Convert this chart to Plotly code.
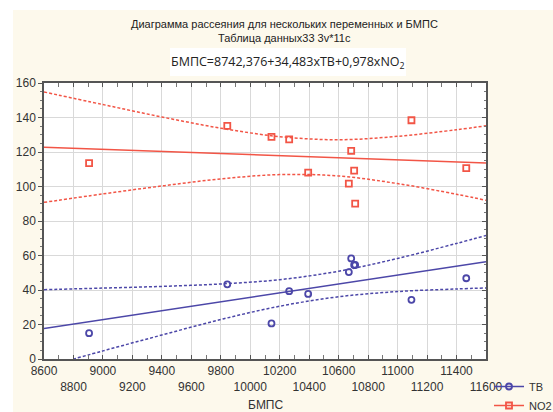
import plotly.graph_objects as go

# ---- data ----
bmps = [8906, 9844, 10144, 10264, 10393, 10669, 10685, 10705, 10712, 11094, 11466]
tb = [15.0, 43.3, 20.6, 39.3, 37.7, 50.4, 58.3, 54.5, 54.5, 34.3, 46.8]
no2 = [113.6, 135.2, 128.8, 127.3, 108.0, 101.7, 120.7, 109.2, 90.1, 138.4, 110.7]

# regression lines (endpoints)
fit_x = [8600, 11600]
tb_fit = [17.7, 56.4]
no2_fit = [122.8, 113.6]

# confidence bands
band_x = [8600, 9000, 9400, 9800, 10200, 10600, 11000, 11400, 11600]
tb_upper = [40.2, 41.1, 42.1, 43.5, 46.0, 50.9, 58.3, 67.0, 71.6]
tb_lower = [-4.8, 4.7, 13.9, 22.9, 30.6, 36.1, 39.1, 40.6, 41.2]
no2_upper = [154.8, 147.5, 140.3, 133.8, 128.9, 127.1, 129.1, 132.9, 135.2]
no2_lower = [90.8, 95.7, 100.3, 104.4, 106.9, 106.1, 101.7, 95.5, 92.0]

x_ticks = list(range(8600, 11601, 200))
y_ticks = list(range(0, 161, 20))

BLUE = "#4c47a8"
RED = "#f25546"
CREAM = "#fdf9ec"
FONT = "Liberation Sans, Arial, sans-serif"

fig = go.Figure()

# bands & fits (no legend)
for xs, ys, col in [(band_x, tb_upper, BLUE), (band_x, tb_lower, BLUE),
                    (band_x, no2_upper, RED), (band_x, no2_lower, RED)]:
    fig.add_trace(go.Scatter(x=xs, y=ys, mode="lines", showlegend=False, hoverinfo="skip",
                             line=dict(color=col, width=1.5, dash="3px,2px", shape="spline")))
fig.add_trace(go.Scatter(x=fit_x, y=tb_fit, mode="lines", showlegend=False,
                         line=dict(color=BLUE, width=1.5)))
fig.add_trace(go.Scatter(x=fit_x, y=no2_fit, mode="lines", showlegend=False,
                         line=dict(color=RED, width=1.5)))

# points
fig.add_trace(go.Scatter(x=bmps, y=tb, mode="markers", name="TB", showlegend=False,
                         marker=dict(symbol="circle-open", size=6, color=BLUE, line=dict(width=1.8))))
fig.add_trace(go.Scatter(x=bmps, y=no2, mode="markers", name="NO2", showlegend=False,
                         marker=dict(symbol="square-open", size=6, color=RED, line=dict(width=1.8))))
# legend entries (line + marker)
fig.add_trace(go.Scatter(x=[None], y=[None], mode="lines+markers", name="TB",
                         line=dict(color=BLUE, width=1.5),
                         marker=dict(symbol="circle-open", size=6, color=BLUE, line=dict(width=1.8))))
fig.add_trace(go.Scatter(x=[None], y=[None], mode="lines+markers", name="NO2",
                         line=dict(color=RED, width=1.5),
                         marker=dict(symbol="square-open", size=6, color=RED, line=dict(width=1.8))))
# invisible trace for right axis
fig.add_trace(go.Scatter(x=[8600], y=[0], yaxis="y2", mode="markers",
                         marker=dict(opacity=0), showlegend=False, hoverinfo="skip"))

ml, mr, mt, mb = 44, 67, 83, 53
W, H = 553, 412
pw, ph = W - ml - mr, H - mt - mb


def px(x):
    return (x - ml) / pw


def py(y):
    return (H - mb - y) / ph


ticktext = [str(v) if i % 2 == 0 else "<br>" + str(v) for i, v in enumerate(x_ticks)]

fig.update_layout(
    width=W, height=H,
    margin=dict(l=ml, r=mr, t=mt, b=mb, autoexpand=False),
    paper_bgcolor="white",
    plot_bgcolor="white",
    font=dict(family=FONT, size=12, color="#333333"),
    showlegend=True,
    legend=dict(x=px(489), y=py(372), xanchor="left", yanchor="top",
                bgcolor="rgba(0,0,0,0)", font=dict(size=11, color="#333333"),
                tracegroupgap=0, itemwidth=30),
    xaxis=dict(range=[8600, 11600], tickvals=x_ticks, ticktext=ticktext, tickangle=0,
               automargin=False,
               showgrid=True, gridcolor="#d9d9d9", gridwidth=1,
               ticks="inside", ticklen=4, tickcolor="#555555",
               showline=True, linecolor="#555555", linewidth=1.5, mirror="allticks",
               zeroline=False,
               minor=dict(ticks="inside", ticklen=2, dtick=100, tickcolor="#777777", showgrid=False),
               tickfont=dict(size=12, color="#333333", family=FONT)),
    yaxis=dict(range=[0, 160], tickvals=y_ticks, automargin=False,
               showgrid=True, gridcolor="#d9d9d9", gridwidth=1,
               ticks="outside", ticklen=4, tickcolor="#555555",
               showline=True, linecolor="#555555", linewidth=1.5, mirror=True,
               zeroline=False,
               minor=dict(ticks="outside", ticklen=2, dtick=5, tickcolor="#777777", showgrid=False),
               tickfont=dict(size=12, color="#333333", family=FONT)),
    yaxis2=dict(range=[0, 160], overlaying="y", side="right", tickvals=y_ticks, automargin=False,
                showticklabels=False, showgrid=False, zeroline=False,
                ticks="inside", ticklen=4, tickcolor="#555555",
                minor=dict(ticks="inside", ticklen=2, dtick=5, tickcolor="#777777")),
    shapes=[
        dict(type="rect", xref="paper", yref="paper", layer="below",
             x0=px(13), x1=px(W + 5), y0=py(H + 5), y1=py(10),
             fillcolor=CREAM, line=dict(width=0)),
        dict(type="rect", xref="paper", yref="paper", layer="below",
             x0=0, x1=1, y0=0, y1=1, fillcolor="white", line=dict(width=0)),
        dict(type="rect", xref="paper", yref="paper", layer="below",
             x0=px(170), x1=px(406), y0=py(76), y1=py(48),
             fillcolor="white", line=dict(width=0)),
    ],
    annotations=[
        dict(text="Диаграмма рассеяния для нескольких переменных и БМПС", xref="paper", yref="paper",
             x=px(284), y=py(24), xanchor="center", yanchor="middle", showarrow=False,
             font=dict(size=11, color="#222222", family=FONT)),
        dict(text="Таблица данных33 3v*11c", xref="paper", yref="paper",
             x=px(284), y=py(38), xanchor="center", yanchor="middle", showarrow=False,
             font=dict(size=11, color="#222222", family=FONT)),
        dict(text="БМПС=8742,376+34,483xTB+0,978xNO<sub>2</sub>", xref="paper", yref="paper",
             x=px(288), y=py(62), xanchor="center", yanchor="middle", showarrow=False,
             font=dict(size=12.5, color="#222222", family="Open Sans, sans-serif")),
        dict(text="БМПС", xref="paper", yref="paper", x=px(265), y=py(405),
             xanchor="center", yanchor="middle", showarrow=False,
             font=dict(size=12, color="#333333", family=FONT)),
    ],
)

fig.write_html("out.html")
